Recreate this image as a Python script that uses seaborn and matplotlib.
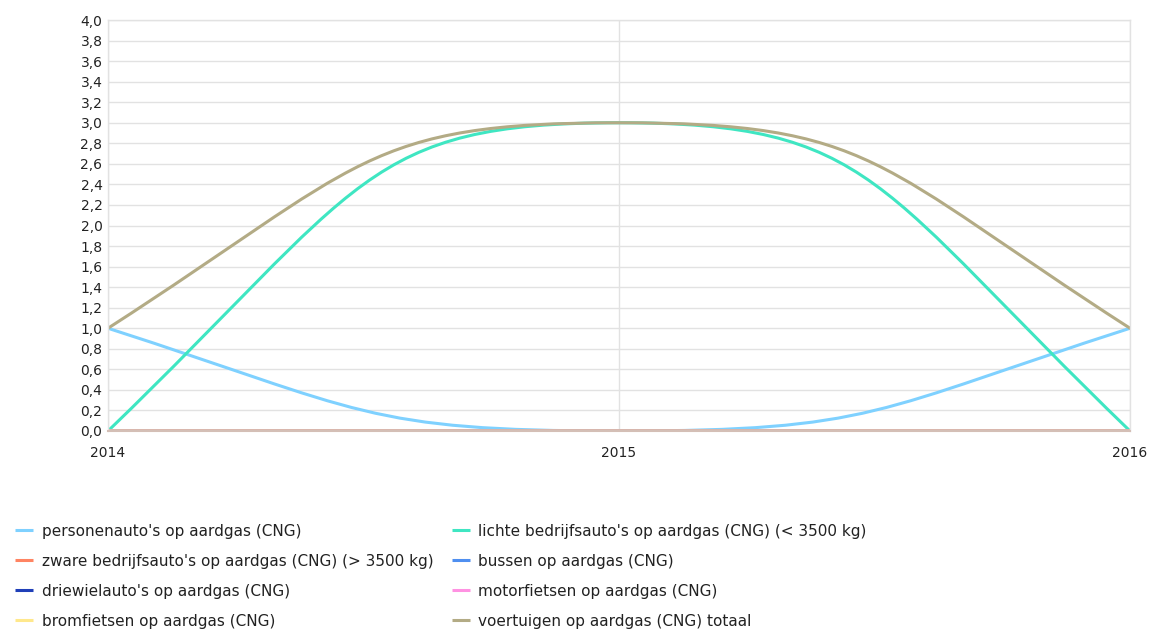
import numpy as np
import pandas as pd
import seaborn as sns
import matplotlib.pyplot as plt
from matplotlib.path import Path
from matplotlib.patches import PathPatch
from matplotlib.lines import Line2D
from matplotlib.ticker import FuncFormatter, MultipleLocator

years = [2014, 2015, 2016]

personenautos = [1, 0, 1]
lichte_bedrijfsautos = [0, 3, 0]
zware_bedrijfsautos = [0, 0, 0]
bussen = [0, 0, 0]
driewielautos = [0, 0, 0]
motorfietsen = [0, 0, 0]
bromfietsen = [0, 0, 0]
totaal = [1, 3, 1]

labels = [
    "personenauto's op aardgas (CNG)",
    "lichte bedrijfsauto's op aardgas (CNG) (< 3500 kg)",
    "zware bedrijfsauto's op aardgas (CNG) (> 3500 kg)",
    "bussen op aardgas (CNG)",
    "driewielauto's op aardgas (CNG)",
    "motorfietsen op aardgas (CNG)",
    "bromfietsen op aardgas (CNG)",
    "voertuigen op aardgas (CNG) totaal",
]
series = [personenautos, lichte_bedrijfsautos, zware_bedrijfsautos, bussen,
          driewielautos, motorfietsen, bromfietsen, totaal]
colors = ["#7fd1ff", "#3fe6c2", "#ff8462", "#4f8ff0",
          "#1f3fb8", "#ff92e2", "#ffe88c", "#b3ab85"]


def smooth_path(x, y, reach=0.5, end=1.6):
    # smoothed line through the points (monotone tangents, bezier segments)
    x = np.asarray(x, float)
    y = np.asarray(y, float)
    n = len(x)
    h = np.diff(x)
    s = np.diff(y) / h
    t = np.zeros(n)
    for i in range(1, n - 1):
        p = (s[i - 1] * h[i] + s[i] * h[i - 1]) / (h[i - 1] + h[i])
        t[i] = (np.sign(s[i - 1]) + np.sign(s[i])) * min(abs(s[i - 1]), abs(s[i]), 0.5 * abs(p))
    t[0] = end * s[0] - (end - 1) * t[1]
    t[-1] = end * s[-1] - (end - 1) * t[-2]
    verts = [(x[0], y[0])]
    codes = [Path.MOVETO]
    for i in range(n - 1):
        d = h[i] * reach
        verts += [(x[i] + d, y[i] + t[i] * d), (x[i + 1] - d, y[i + 1] - t[i + 1] * d), (x[i + 1], y[i + 1])]
        codes += [Path.CURVE4] * 3
    return Path(verts, codes)


df = pd.DataFrame({"jaar": years})
for lab, vals in zip(labels, series):
    df[lab] = vals

sns.set_style("white")
plt.rcParams["font.family"] = ["DejaVu Sans"]

fig = plt.figure(figsize=(11.52, 6.31), dpi=100)
ax = fig.add_axes([108 / 1152, 1 - 431 / 631, 1022 / 1152, 411 / 631])

for lab, col in zip(labels, colors):
    patch = PathPatch(smooth_path(df["jaar"], df[lab]), facecolor="none",
                      edgecolor=col, lw=2.2, zorder=2, capstyle="round")
    ax.add_patch(patch)

ax.set_xlim(years[0], years[-1])
ax.set_ylim(0, 4)
ax.set_xticks(years)
ax.yaxis.set_major_locator(MultipleLocator(0.2))
ax.yaxis.set_major_formatter(FuncFormatter(lambda v, p: f"{v:.1f}".replace(".", ",")))
ax.grid(True, color="#e2e2e2", lw=1)
ax.set_axisbelow(True)
ax.tick_params(axis="both", length=0, labelsize=10, colors="#222222")
ax.tick_params(axis="y", pad=4)
ax.tick_params(axis="x", pad=10.5)
for side in ["left", "right", "top"]:
    ax.spines[side].set_color("#e2e2e2")
    ax.spines[side].set_linewidth(1)
ax.spines["bottom"].set_color("#d4bfb6")
ax.spines["bottom"].set_linewidth(1.5)
ax.spines["bottom"].set_zorder(3)
ax.set_xlabel("")
ax.set_ylabel("")

# legend: fill row by row, two columns
order = [0, 2, 4, 6, 1, 3, 5, 7]
handles = [Line2D([], [], color=colors[i], lw=2.2, solid_capstyle="butt") for i in order]
fig.legend(handles, [labels[i] for i in order], ncol=2, loc="upper left",
           bbox_to_anchor=(0.001, 1 - 510 / 631), frameon=False, fontsize=11,
           handlelength=1.2, handletextpad=0.55, columnspacing=1.2,
           labelspacing=0.98, labelcolor="#222222")

fig.savefig("out.png", dpi=100)
